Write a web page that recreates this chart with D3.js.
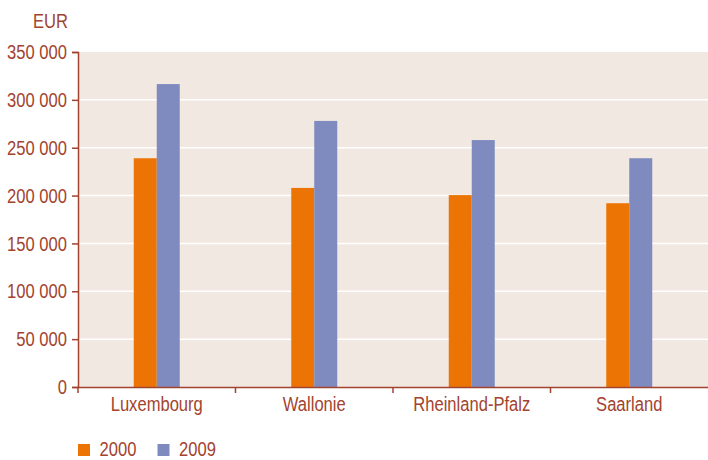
<!DOCTYPE html>
<html><head><meta charset="utf-8">
<script src="https://cdn.jsdelivr.net/npm/d3@7"></script>
<style>
body{margin:0;background:#fff;}
text{font-family:"Liberation Sans",Arial,sans-serif;fill:#a2432f;}
</style></head>
<body><svg id="c" width="708" height="460"></svg>
<script>
const categories = ["Luxembourg","Wallonie","Rheinland-Pfalz","Saarland"];
const seriesNames = ["2000","2009"];
const values2000 = [239000, 208000, 200500, 192000];
const values2009 = [316500, 278000, 258000, 239000];
const yTicks = [0,50000,100000,150000,200000,250000,300000,350000];
const colors = ["#ec7404","#7f8bbf"];

const svg = d3.select("#c");
const m = {l:78, r:708, t:52, b:387};
const axisColor = "#a2432f";
const FS = 19.5;
const x = d3.scaleBand().domain(categories).range([m.l, m.r]);
const x1 = d3.scaleBand().domain(seriesNames).range([x.bandwidth()/2 - 23, x.bandwidth()/2 + 23]);
const y = d3.scaleLinear().domain([0,350000]).range([m.b, m.t]);
const fmt = v => d3.format(",")(v).replace(/,/g," ");

svg.append("rect").attr("x",m.l).attr("y",m.t).attr("width",m.r-m.l).attr("height",m.b-m.t).attr("fill","#f2e8e2");
svg.selectAll(".grid").data(yTicks.filter(d=>d>0 && d<350000)).join("line")
  .attr("x1",m.l).attr("x2",m.r).attr("y1",d=>y(d)).attr("y2",d=>y(d))
  .attr("stroke","#fff").attr("stroke-width",1.5);

const series = [values2000, values2009];
const g = svg.append("g");
categories.forEach((c,i)=>{
  seriesNames.forEach((s,j)=>{
    g.append("rect").attr("x",x(c)+x1(s)).attr("width",x1.bandwidth())
      .attr("y",y(series[j][i])).attr("height",y(0)-y(series[j][i])).attr("fill",colors[j]);
  });
});

// y axis
const ya = svg.append("g").attr("transform",`translate(${m.l},0)`)
  .call(d3.axisLeft(y).tickValues(yTicks).tickFormat(fmt).tickSize(6).tickPadding(5));
ya.select(".domain").attr("stroke",axisColor).attr("stroke-width",1.5);
ya.selectAll(".tick line").attr("stroke",axisColor).attr("stroke-width",1.5);
ya.selectAll(".tick text").attr("font-size",FS).attr("fill",axisColor).style("font-family",null).attr("dy","0.34em");

// x axis
const xa = svg.append("g").attr("transform",`translate(0,${m.b})`)
  .call(d3.axisBottom(x).tickSize(0).tickPadding(10));
xa.select(".domain").attr("stroke",axisColor).attr("stroke-width",1.5);
xa.selectAll(".tick text").attr("font-size",FS).attr("fill",axisColor).style("font-family",null)
  .attr("y",24).attr("dy",null);
const bounds = categories.map(c=>x(c));
svg.selectAll(".xt").data(bounds).join("line")
  .attr("x1",d=>d).attr("x2",d=>d).attr("y1",m.b).attr("y2",m.b+6)
  .attr("stroke",axisColor).attr("stroke-width",1.5);

svg.append("text").attr("x",68).attr("y",27.5).attr("text-anchor","end").attr("font-size",FS).text("EUR");

// legend
const lg = svg.append("g");
seriesNames.forEach((s,j)=>{
  const lx = 78 + j*79.5;
  lg.append("rect").attr("x",lx).attr("y",444).attr("width",12).attr("height",12).attr("fill",colors[j]);
  lg.append("text").attr("x",lx+21.5).attr("y",455.5).attr("font-size",FS).text(s);
});

// condense all text horizontally
svg.selectAll("text").each(function(){
  const w = this.getComputedTextLength();
  d3.select(this).attr("textLength", w*0.85).attr("lengthAdjust","spacingAndGlyphs");
});
</script></body></html>
